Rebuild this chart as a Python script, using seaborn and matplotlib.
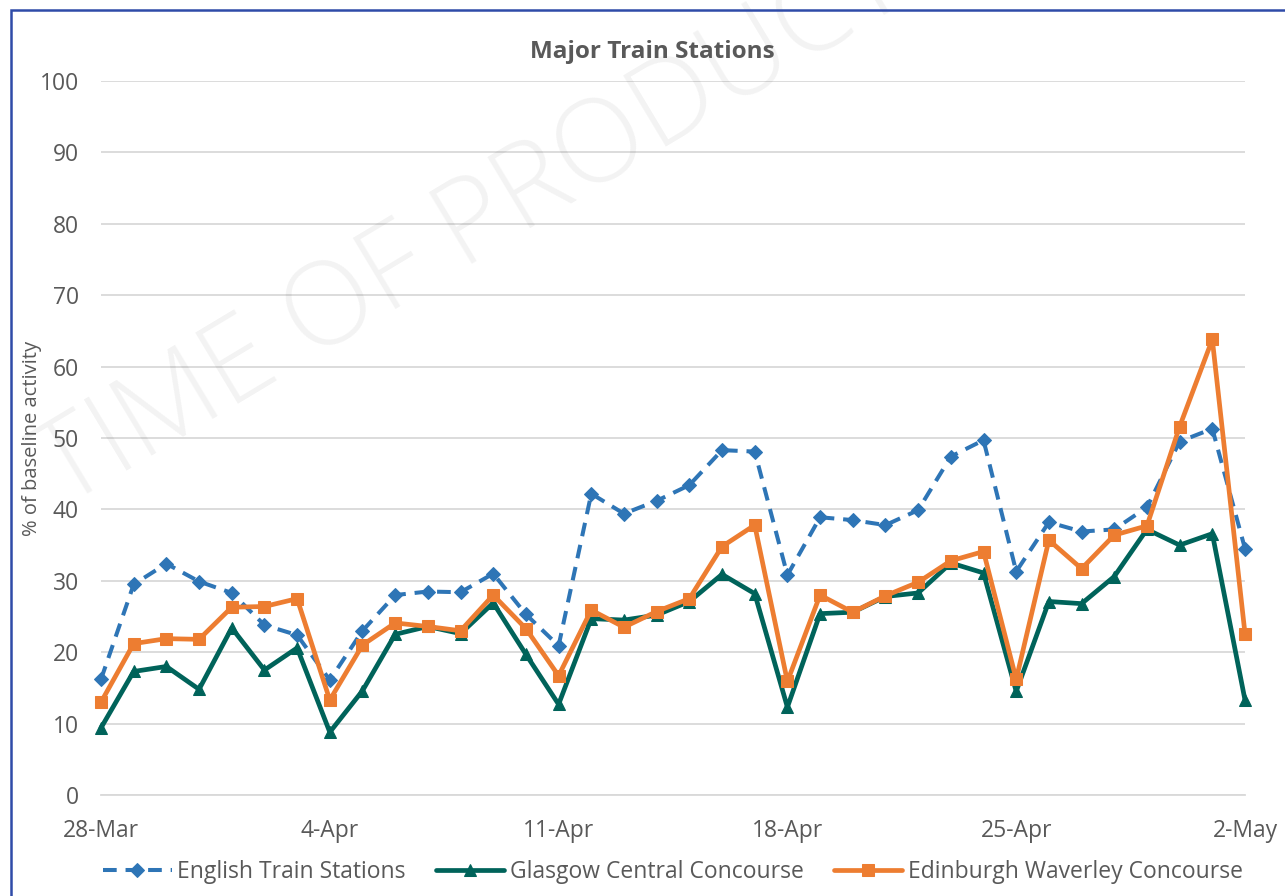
import matplotlib
matplotlib.use("Agg")
import matplotlib.pyplot as plt
import numpy as np
import pandas as pd
import seaborn as sns

dates = pd.date_range("2020-03-28", "2020-05-02", freq="D")
tick_dates = pd.to_datetime(["2020-03-28", "2020-04-04", "2020-04-11",
                             "2020-04-18", "2020-04-25", "2020-05-02"])
tick_labels = ["28-Mar", "4-Apr", "11-Apr", "18-Apr", "25-Apr", "2-May"]

english = [16.2, 29.5, 32.4, 29.9, 28.3, 23.8, 22.4, 16.1, 23.0, 28.0, 28.5, 28.4,
           31.0, 25.3, 20.9, 42.2, 39.4, 41.2, 43.4, 48.3, 48.1, 30.8, 38.9, 38.5,
           37.8, 39.9, 47.4, 49.7, 31.3, 38.2, 36.9, 37.2, 40.3, 49.5, 51.3, 34.5]
glasgow = [9.4, 17.3, 18.0, 14.8, 23.4, 17.5, 20.6, 8.8, 14.6, 22.5, 23.6, 22.6,
           26.9, 19.7, 12.7, 24.7, 24.5, 25.2, 27.1, 30.9, 28.2, 12.3, 25.4, 25.6,
           27.8, 28.3, 32.5, 31.1, 14.5, 27.1, 26.8, 30.6, 37.2, 35.0, 36.6, 13.3]
edinburgh = [13.0, 21.2, 21.9, 21.8, 26.3, 26.4, 27.5, 13.3, 21.0, 24.1, 23.6, 23.0,
             28.0, 23.3, 16.7, 25.9, 23.5, 25.7, 27.5, 34.8, 37.8, 15.9, 28.0, 25.6,
             27.9, 29.8, 32.8, 34.1, 16.2, 35.7, 31.7, 36.4, 37.7, 51.6, 63.8, 22.6]

series_names = ["English Train Stations", "Glasgow Central Concourse",
                "Edinburgh Waverley Concourse"]
colors = ["#2E75B6", "#00635A", "#ED7D31"]
markers = ["D", "^", "s"]

sns.set_theme(style="white")
plt.rcParams["font.family"] = ["Open Sans", "DejaVu Sans"]

fig = plt.figure(figsize=(12.85, 8.96), dpi=100)
W, H = 1285, 896
ax = fig.add_axes([101 / W, 1 - 795 / H, (1245 - 101) / W, (795 - 81) / H])

df = pd.DataFrame({"date": dates, series_names[0]: english,
                   series_names[1]: glasgow, series_names[2]: edinburgh})

styles = [dict(lw=2.9, ms=7, dashes=(3.4, 2.2)),
          dict(lw=3.4, ms=8, dashes=None),
          dict(lw=3.4, ms=8, dashes=None)]
for name, c, m, st in zip(series_names, colors, markers, styles):
    kw = dict(x="date", y=name, data=df, ax=ax, color=c, marker=m,
              markersize=st["ms"], markeredgecolor=c, markerfacecolor=c,
              linewidth=st["lw"], label=name, clip_on=False)
    line = sns.lineplot(**kw).get_lines()[-1]
    if st["dashes"] is not None:
        line.set_dashes(st["dashes"])

ax.set_xlim(dates[0], dates[-1])
ax.set_ylim(0, 100)
ax.set_yticks(np.arange(0, 101, 10))
ax.set_xticks(tick_dates)
ax.set_xticklabels(tick_labels)
ax.grid(axis="y", color="#D9D9D9", lw=1.3)
ax.set_axisbelow(True)
for s in ["top", "right", "left"]:
    ax.spines[s].set_visible(False)
ax.spines["bottom"].set_color("#D9D9D9")
ax.spines["bottom"].set_linewidth(1.3)
ax.tick_params(axis="x", which="major", direction="out", length=8, width=1.3,
               color="#D9D9D9", labelsize=16.5, labelcolor="#595959", pad=9)
ax.tick_params(axis="y", length=0, labelsize=16.5, labelcolor="#595959", pad=16)
ax.set_xlabel("")
ax.set_ylabel("% of baseline activity", fontsize=14.5, color="#595959")
ax.yaxis.set_label_coords(-0.052, 0.5)

fig.text(652 / W, 1 - 52 / H, "Major Train Stations", ha="center", va="center",
         fontsize=17.5, fontweight="bold", color="#595959")

# watermark
fig.text(560 / W, 1 - 175 / H, "TIME OF PRODUCTION", ha="center", va="center",
         fontsize=84, fontweight="light", color="#000000", alpha=0.05,
         rotation=31, zorder=0)

leg = ax.legend(loc="center",
                bbox_to_anchor=(0.5, -(872 - 795) / (795 - 81)),
                ncol=3, frameon=False, fontsize=16.5, handlelength=3.0,
                columnspacing=1.3, handletextpad=0.25)
for t in leg.get_texts():
    t.set_color("#595959")

# border
fig.patches.append(matplotlib.patches.Rectangle((11 / W, -0.05), 1.2, 1 - 10 / H + 0.05,
                   transform=fig.transFigure, fill=False, edgecolor="#2F4BA8",
                   lw=1.8, zorder=10))

fig.savefig("out.png", dpi=100)
